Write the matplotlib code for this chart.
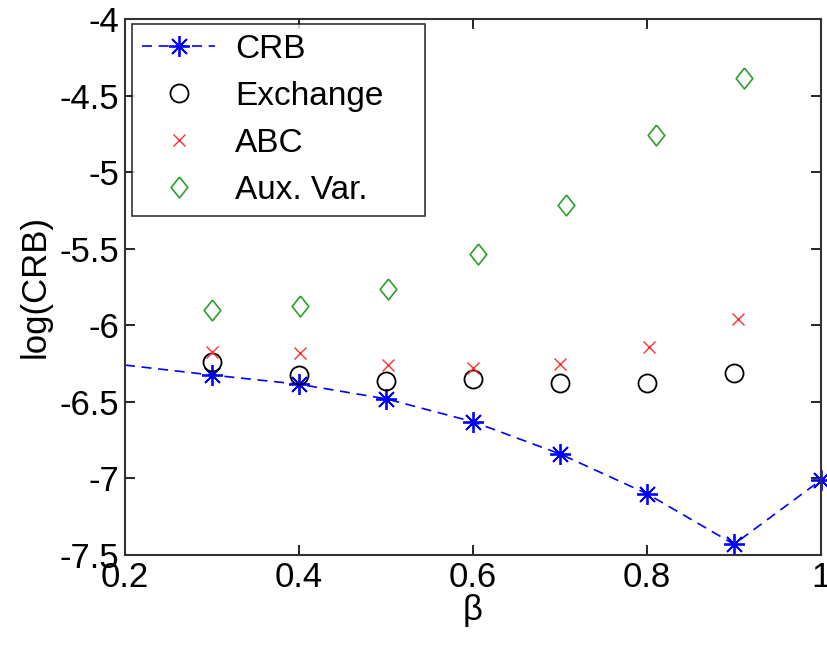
import matplotlib
matplotlib.use("Agg")
import matplotlib.pyplot as plt

plt.rcParams['font.family'] = ['Liberation Sans', 'DejaVu Sans']

# CRB curve (markers at 0.3 .. 1.0)
beta_crb = [0.2, 0.3, 0.4, 0.5, 0.6, 0.7, 0.8, 0.9, 1.0]
crb = [-6.26, -6.325, -6.385, -6.48, -6.63, -6.84, -7.10, -7.43, -7.01]

beta_exch = [0.3, 0.4, 0.5, 0.6, 0.7, 0.8, 0.9]
exch = [-6.24, -6.325, -6.365, -6.35, -6.38, -6.38, -6.31]

beta_abc = [0.3, 0.401, 0.502, 0.6, 0.7, 0.802, 0.905]
abc = [-6.175, -6.18, -6.26, -6.28, -6.25, -6.14, -5.96]

beta_aux = [0.3, 0.401, 0.502, 0.606, 0.707, 0.81, 0.911]
aux = [-5.90, -5.875, -5.76, -5.535, -5.215, -4.76, -4.385]

xticks = [0.2, 0.4, 0.6, 0.8, 1.0]
xticklabels = ['0.2', '0.4', '0.6', '0.8', '1']
yticks = [-7.5, -7, -6.5, -6, -5.5, -5, -4.5, -4]
yticklabels = ['-7.5', '-7', '-6.5', '-6', '-5.5', '-5', '-4.5', '-4']

fig = plt.figure(figsize=(8.27, 6.48), dpi=100)
ax = fig.add_axes([125 / 827, 1 - 555 / 648, 696 / 827, 536 / 648])

star = (8, 2, 0)
diamond = [(0, 1), (0.8, 0), (0, -1), (-0.8, 0), (0, 1)]

ax.plot(beta_crb, crb, color='blue', linestyle=(0, (6, 4)), linewidth=1.2,
        marker=star, markersize=15, markeredgewidth=1.3,
        markevery=list(range(1, len(beta_crb))), label='CRB', clip_on=False)
ax.plot(beta_exch, exch, linestyle='none', marker='o', markersize=13,
        markerfacecolor='none', markeredgecolor='black', markeredgewidth=1.3,
        label='Exchange')
ax.plot(beta_abc, abc, linestyle='none', marker='x', markersize=8,
        markeredgecolor='#ff3030', markeredgewidth=1.0, label='ABC')
ax.plot(beta_aux, aux, linestyle='none', marker=diamond, markersize=15,
        markerfacecolor='none', markeredgecolor='#2ca02c', markeredgewidth=1.2,
        label='Aux. Var.')

ax.set_xlim(0.2, 1.0)
ax.set_ylim(-7.5, -4)
ax.set_xticks(xticks)
ax.set_xticklabels(xticklabels)
ax.set_yticks(yticks)
ax.set_yticklabels(yticklabels)
ax.tick_params(direction='in', length=7, width=1.2, labelsize=25,
               top=True, right=True, pad=4)
for sp in ax.spines.values():
    sp.set_linewidth(1.5)
    sp.set_color('#333333')

ax.set_xlabel('β', fontsize=25, labelpad=0)
ax.set_ylabel('log(CRB)', fontsize=25, labelpad=6)

leg = ax.legend(loc='upper left', bbox_to_anchor=(0.01, 0, 0.421, 0.991),
                mode='expand', borderaxespad=0,
                fontsize=24, frameon=True, fancybox=False,
                edgecolor='black', handlelength=2.2,
                labelspacing=0.48, borderpad=0.3, handletextpad=0.6)
leg.get_frame().set_linewidth(1.2)

fig.savefig('out.png', dpi=100)
